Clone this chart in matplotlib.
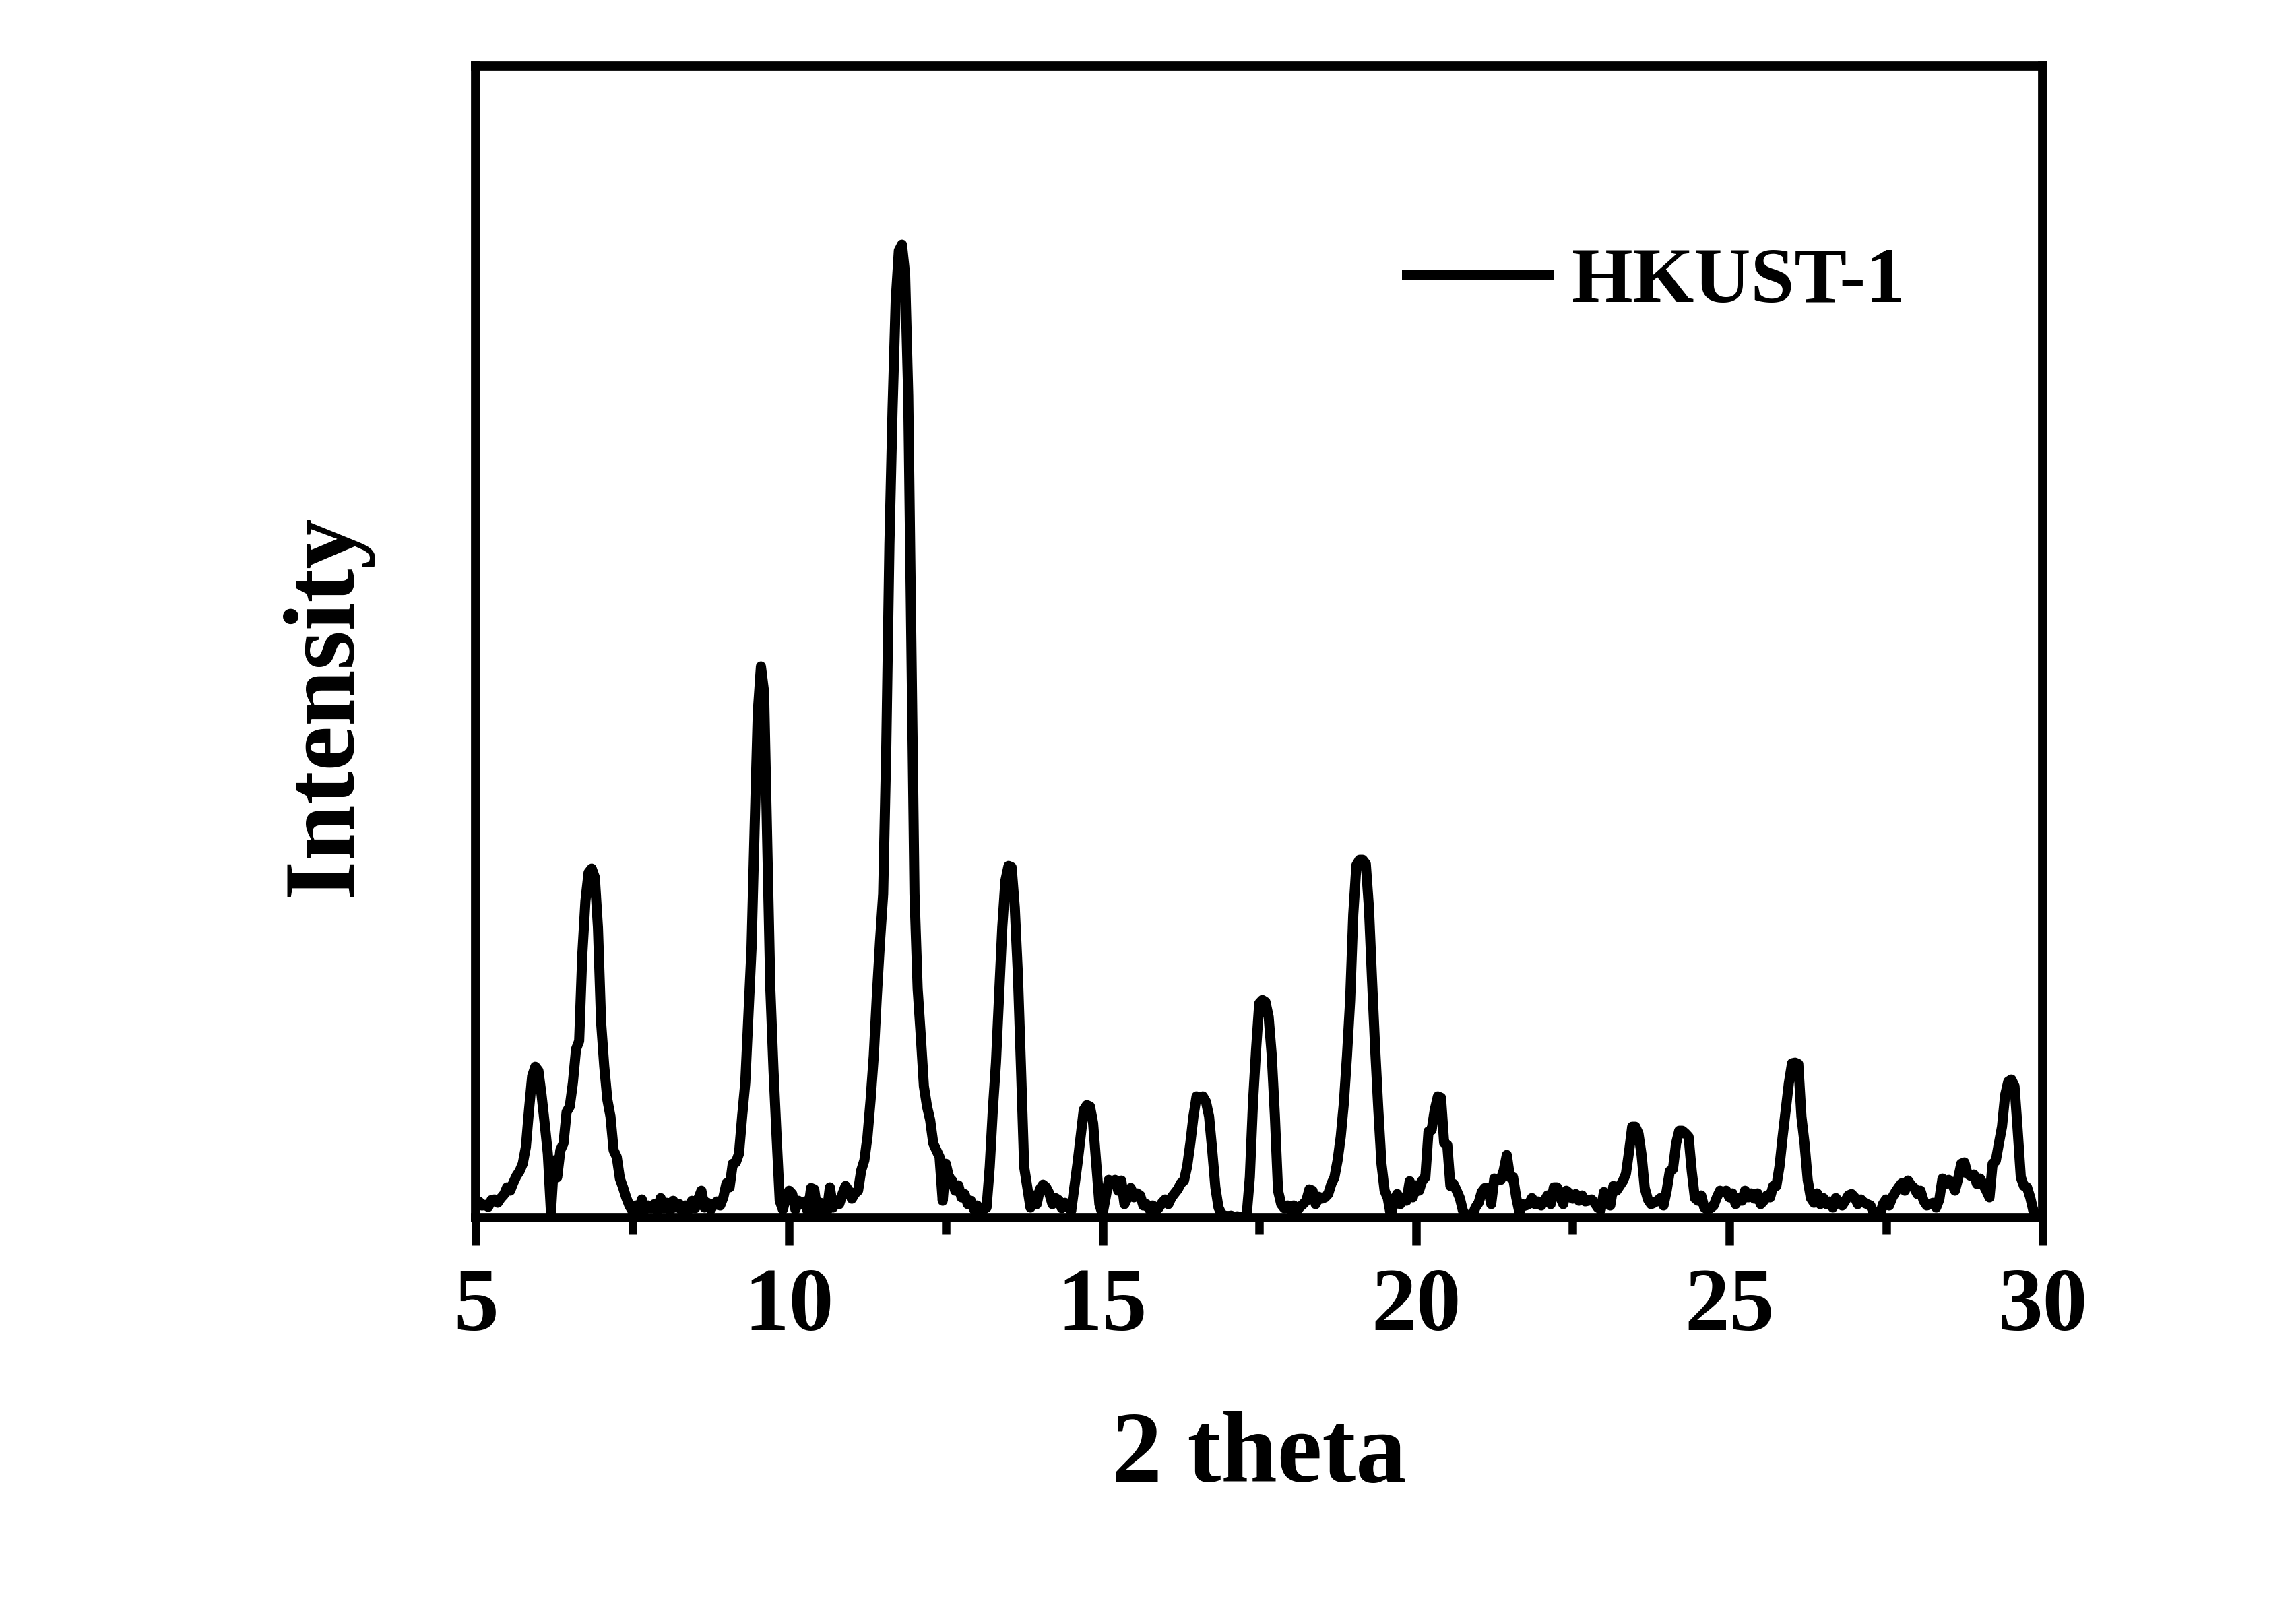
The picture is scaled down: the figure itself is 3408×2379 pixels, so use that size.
import matplotlib
matplotlib.use('Agg')
import matplotlib.pyplot as plt
from matplotlib.ticker import MultipleLocator
import numpy as np

# XRD pattern, 2 theta from 5 to 30 in 0.05 steps (arb. units)
TWO_THETA_START = 5.0
TWO_THETA_STEP = 0.05
intensity = [
    20, 24, 18, 19, 16, 26, 27, 22, 29, 34,
    45, 40, 52, 62, 69, 80, 105, 160, 210, 224,
    218, 182, 140, 95, 8, 85, 60, 100, 110, 157,
    165, 200, 250, 262, 390, 470, 512, 518, 505, 430,
    290, 225, 175, 150, 100, 90, 58, 45, 30, 18,
    10, 18, 8, 27, 12, 18, 14, 20, 10, 29,
    14, 22, 10, 25, 15, 20, 8, 18, 12, 25,
    14, 28, 40, 15, 22, 12, 20, 24, 18, 30,
    51, 45, 80, 82, 95, 150, 200, 300, 400, 580,
    750, 818, 780, 560, 340, 220, 120, 25, 12, 30,
    40, 35, 12, 25, 20, 24, 8, 44, 42, 10,
    22, 18, 8, 45, 15, 25, 20, 35, 47, 40,
    28, 36, 40, 70, 85, 120, 175, 240, 330, 410,
    480, 700, 1000, 1200, 1360, 1435, 1444, 1400, 1220, 850,
    480, 340, 270, 195, 165, 145, 110, 100, 90, 25,
    80, 60, 55, 40, 48, 30, 35, 20, 25, 12,
    18, 10, 12, 15, 75, 160, 230, 330, 430, 500,
    522, 520, 460, 360, 220, 75, 45, 15, 33, 20,
    42, 49, 45, 36, 20, 29, 26, 14, 22, 18,
    10, 45, 80, 120, 160, 167, 165, 140, 80, 20,
    5, 30, 56, 50, 56, 40, 55, 20, 30, 44,
    30, 36, 33, 18, 20, 12, 18, 10, 15, 22,
    27, 20, 30, 36, 42, 51, 55, 76, 110, 150,
    180, 178, 180, 172, 150, 100, 45, 15, 5, 3,
    2, 3, 1, 2, 1, 2, 4, 60, 170, 250,
    318, 323, 320, 298, 240, 150, 40, 20, 14, 18,
    12, 18, 10, 16, 20, 25, 42, 40, 20, 31,
    28, 30, 35, 50, 60, 85, 120, 170, 240, 322,
    450, 523, 531, 531, 525, 460, 352, 250, 160, 80,
    40, 29, 3, 25, 35, 20, 30, 25, 54, 30,
    48, 40, 55, 60, 128, 130, 160, 180, 178, 111,
    108, 47, 50, 40, 29, 10, 3, 1, 3, 15,
    22, 38, 44, 44, 20, 58, 56, 56, 70, 93,
    60, 60, 30, 8, 20, 18, 20, 29, 20, 24,
    18, 25, 33, 20, 45, 45, 30, 20, 40, 36,
    28, 35, 25, 33, 24, 25, 27, 22, 15, 12,
    38, 30, 18, 47, 40, 47, 54, 65, 98, 135,
    135, 125, 93, 44, 27, 20, 22, 25, 29, 18,
    40, 69, 72, 110, 129, 129, 125, 120, 69, 29,
    25, 33, 15, 12, 14, 18, 30, 40, 38, 40,
    30, 36, 20, 29, 25, 40, 30, 36, 28, 36,
    20, 25, 33, 30, 47, 47, 76, 120, 160, 200,
    229, 230, 228, 150, 110, 56, 29, 22, 36, 20,
    29, 20, 24, 15, 29, 22, 18, 25, 33, 35,
    30, 20, 27, 22, 20, 18, 8, 0, 2, 20,
    27, 18, 30, 38, 45, 51, 40, 55, 48, 44,
    35, 40, 25, 18, 20, 22, 15, 27, 58, 50,
    56, 51, 40, 58, 80, 82, 65, 62, 64, 50,
    58, 49, 40, 30, 80, 84, 110, 135, 182, 202,
    205, 195, 130, 60, 47, 45, 30, 10, 5, 3,
    2,
]
two_theta = TWO_THETA_START + TWO_THETA_STEP * np.arange(len(intensity))

SAMPLE_NAME = 'HKUST-1'
X_TICKS = [5, 10, 15, 20, 25, 30]

plt.rcParams['font.family'] = ['Liberation Serif', 'DejaVu Serif']
plt.rcParams['font.weight'] = 'bold'

fig = plt.figure(figsize=(11.36, 7.93), dpi=300)
ax = fig.add_axes([0.2072, 0.2404, 0.6825, 0.7184])

ax.plot(two_theta, intensity, color='black', linewidth=3.6,
        solid_joinstyle='round', label=SAMPLE_NAME)

ax.set_xlim(5, 30)
ax.set_ylim(0, 1709)

ax.set_xticks(X_TICKS)
ax.xaxis.set_minor_locator(MultipleLocator(2.5))
ax.set_yticks([])
ax.tick_params(axis='x', which='major', direction='out', length=9.8, width=3.0,
               labelsize=32, pad=8)
ax.tick_params(axis='x', which='minor', direction='out', length=6, width=3.0)
for lbl in ax.get_xticklabels():
    lbl.set_fontweight('bold')

for spine in ax.spines.values():
    spine.set_linewidth(3.3)

ax.set_xlabel('2 theta', fontsize=36, fontweight='bold', labelpad=22)
ax.set_ylabel('Intensity', fontsize=36, fontweight='bold')
ax.yaxis.set_label_coords(-0.066, 0.445)

ax.legend(loc='center left', bbox_to_anchor=(0.594, 0.812), frameon=False,
          handlelength=1.8, handletextpad=0.3, borderpad=0, borderaxespad=0,
          prop={'size': 28, 'weight': 'bold'})

fig.savefig('out.png', dpi=300, facecolor='white')
